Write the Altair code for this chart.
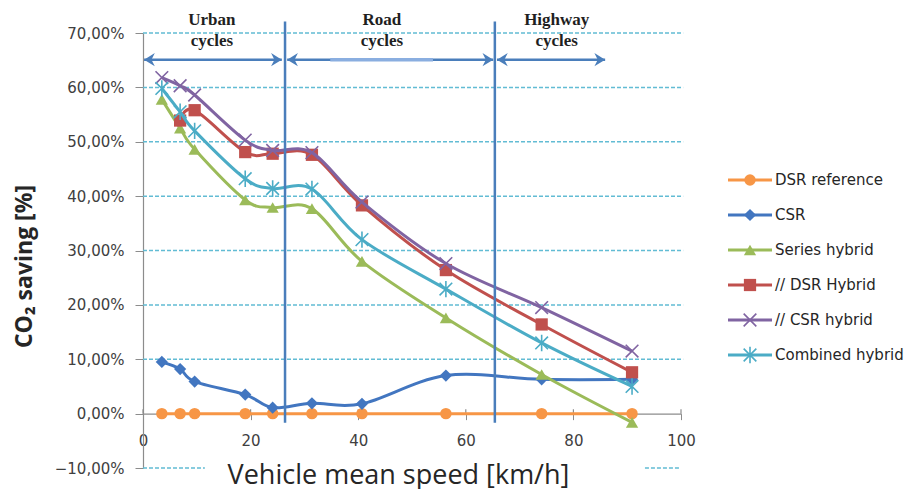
import altair as alt
import pandas as pd

# ---------------- data ----------------
series = ["DSR reference", "CSR", "Series hybrid", "// DSR Hybrid", "// CSR hybrid", "Combined hybrid"]
colors = ["#f79646", "#4276c0", "#9bbb59", "#c0504d", "#8064a2", "#4bacc6"]

speed = [3.5, 6.9, 9.6, 19.0, 24.1, 31.4, 40.7, 56.3, 74.1, 90.9]
dsr_reference = [0.0, 0.0, 0.0, 0.0, 0.0, 0.0, 0.0, 0.0, 0.0, 0.0]
csr = [9.5, 8.2, 5.9, 3.5, 1.1, 1.9, 1.8, 7.0, 6.3, 6.3]
series_hybrid = [57.8, 52.5, 48.6, 39.3, 37.9, 37.7, 28.0, 17.6, 7.2, -1.6]
dsr_hybrid = [None, 53.9, 55.8, 48.1, 47.8, 47.6, 38.3, 26.4, 16.4, 7.6]
csr_hybrid = [61.8, 60.3, 58.6, 50.3, 48.4, 48.0, 38.9, 27.6, 19.5, 11.5]
combined_hybrid = [59.8, 55.5, 52.0, 43.2, 41.4, 41.3, 32.0, 22.9, 13.0, 5.0]
values = [dsr_reference, csr, series_hybrid, dsr_hybrid, csr_hybrid, combined_hybrid]

y_ticks = [-10, 0, 10, 20, 30, 40, 50, 60, 70]
x_ticks = [0, 20, 40, 60, 80, 100]
grid_y = [10, 20, 30, 40, 50, 60, 70]

boundaries = [26.4, 65.4]
region_names = ["Urban\ncycles", "Road\ncycles", "Highway\ncycles"]
region_x = [12.8, 44.4, 76.9]
arrow_start = [0.2, 26.8, 65.8]
arrow_end = [25.8, 65.1, 85.9]
arrow_y = 65.1

# ---------------- styles ----------------
shapes = ["circle", "diamond", "triangle-up", "square",
          "M-1,-1L1,1M-1,1L1,-1",
          "M-1,-1L1,1M-1,1L1,-1M0,-1.3L0,1.3"]
filled = [True, True, True, True, False, False]
sizes = [130, 150, 150, 150, 160, 160]

W, H = 538, 435
zero_offset = -(H * 10 / 80)

rows = []
for s, vals in zip(series, values):
    for x, v in zip(speed, vals):
        if v is not None:
            rows.append({"series": s, "x": x, "y": v})
df = pd.DataFrame(rows)

xscale = alt.Scale(domain=[0, 100], nice=False, zero=False)
yscale = alt.Scale(domain=[-10, 70], nice=False, zero=False)

xaxis = alt.Axis(values=x_ticks, format="d", offset=zero_offset, grid=False, labelFlush=False,
                 domainColor="#8c8c8c", domainWidth=1.2, tickColor="#8c8c8c", tickSize=6,
                 labelPadding=14, labelFont="DejaVu Sans", labelFontSize=15, labelColor="#404040",
                 title="Vehicle mean speed [km/h]", titleFont="Open Sans", titleFontSize=27,
                 titleFontWeight="normal", titleColor="#262626", titleX=255, titleY=70,
                 titleBaseline="alphabetic", titleAlign="center")
yaxis = alt.Axis(values=y_ticks, labelExpr="replace(format(datum.value,'.2f'),'.',',')+'%'",
                 grid=False, domainColor="#8c8c8c", domainWidth=1.2, tickColor="#8c8c8c", tickSize=8,
                 labelPadding=11, labelFont="DejaVu Sans", labelFontSize=15, labelColor="#404040",
                 title="CO₂ saving [%]", titleFont="Open Sans", titleFontSize=23,
                 titleFontWeight="bold", titleColor="#262626", titleX=-119, titleY=233,
                 titleAlign="center", titleBaseline="middle")


def X(f):
    return alt.X(f"{f}:Q", scale=xscale, axis=xaxis)


def Y(f):
    return alt.Y(f"{f}:Q", scale=yscale, axis=yaxis)


grid_color = "#62bcd4"
grid = alt.Chart(pd.DataFrame({"gy": grid_y, "gx": [0] * 7, "gx2": [100.4] * 7})).mark_rule(
    color=grid_color, strokeDash=[4, 2], strokeWidth=1.5).encode(
    x=X("gx"), x2="gx2", y=Y("gy"))
grid_low = alt.Chart(pd.DataFrame({"gy": [-10, -10], "gx": [0, 93.3], "gx2": [11.5, 99.9]})).mark_rule(
    color=grid_color, strokeDash=[4, 2], strokeWidth=1.5).encode(
    x=X("gx"), x2="gx2", y=Y("gy"))

up_ticks = alt.Chart(pd.DataFrame({"tx": x_ticks, "ty": [0] * 6, "ty2": [0.8] * 6})).mark_rule(
    color="#8c8c8c", strokeWidth=1.2).encode(x=X("tx"), y=Y("ty"), y2="ty2")

layers = [grid, grid_low, up_ticks]
for s, c, sh, fl, sz in zip(series, colors, shapes, filled, sizes):
    base = alt.Chart(df).transform_filter(alt.datum.series == s)
    line = base.mark_line(interpolate="cardinal", strokeWidth=3, color=c).encode(x=X("x"), y=Y("y"))
    if fl:
        pts = base.mark_point(shape=sh, filled=True, size=sz, color=c, opacity=1).encode(x=X("x"), y=Y("y"))
    else:
        pts = base.mark_point(shape=sh, filled=False, size=sz, color=c, strokeWidth=1.6, opacity=1).encode(
            x=X("x"), y=Y("y"))
    layers += [line, pts]

blue = "#4a7ebb"
bound = alt.Chart(pd.DataFrame({"bx": boundaries, "by": [72.1, 72.1], "by2": [-1.7, -1.7]})).mark_rule(
    color=blue, strokeWidth=2.5).encode(x=X("bx"), y=Y("by"), y2="by2")

arr = pd.DataFrame({"ax": arrow_start, "ax2": arrow_end, "ay": [arrow_y] * 3})
arrows = alt.Chart(arr).mark_rule(color=blue, strokeWidth=2.5).encode(x=X("ax"), x2="ax2", y=Y("ay"))
light = alt.Chart(pd.DataFrame({"ax": [34.8], "ax2": [53.9], "ay": [arrow_y]})).mark_rule(
    color="#8aaee0", strokeWidth=3.5).encode(x=X("ax"), x2="ax2", y=Y("ay"))
head_r = alt.Chart(arr).mark_point(shape="M0,0L-1.6,-1L-1.1,0L-1.6,1Z", filled=True, size=180,
                                   color=blue, opacity=1).encode(x=X("ax2"), y=Y("ay"))
head_l = alt.Chart(arr).mark_point(shape="M0,0L1.6,-1L1.1,0L1.6,1Z", filled=True, size=180,
                                   color=blue, opacity=1).encode(x=X("ax"), y=Y("ay"))

labels = alt.Chart(pd.DataFrame({"lx": region_x, "ly": [71.5] * 3, "t": region_names})).mark_text(
    font="Liberation Serif", fontSize=17, fontWeight="bold", color="#1f1f1f", lineBreak="\n",
    lineHeight=21, baseline="alphabetic", align="center").encode(x=X("lx"), y=Y("ly"), text="t:N")

layers += [bound, arrows, light, head_r, head_l, labels]

main = alt.layer(*layers).properties(width=W, height=H)

# ---------------- legend panel ----------------
leg_df = pd.DataFrame({"series": series})
ly = alt.Y("series:N", sort=series, axis=None,
           scale=alt.Scale(type="point", domain=series, range=[147, 322], padding=0))
leg_layers = []
for s, c, sh, fl, sz in zip(series, colors, shapes, filled, sizes):
    b = alt.Chart(leg_df).transform_filter(alt.datum.series == s)
    leg_layers.append(b.mark_rule(color=c, strokeWidth=3).encode(x=alt.value(0), x2=alt.value(44), y=ly))
    if fl:
        leg_layers.append(b.mark_point(shape=sh, filled=True, size=sz, color=c, opacity=1).encode(
            x=alt.value(22), y=ly))
    else:
        leg_layers.append(b.mark_point(shape=sh, filled=False, size=sz, color=c, strokeWidth=1.6,
                                       opacity=1).encode(x=alt.value(22), y=ly))
leg_layers.append(alt.Chart(leg_df).mark_text(align="left", baseline="middle", font="DejaVu Sans",
                                              fontSize=15, color="#262626").encode(
    x=alt.value(47), y=ly, text="series:N"))
legend = alt.layer(*leg_layers).properties(width=150, height=H)

chart = alt.hconcat(main, legend, spacing=30).configure(
    background="white",
    padding={"left": 5, "top": 2, "right": 0, "bottom": 0},
    view=alt.ViewConfig(stroke=None))

chart.save("out.html", embed_options={"renderer": "svg", "actions": False})
